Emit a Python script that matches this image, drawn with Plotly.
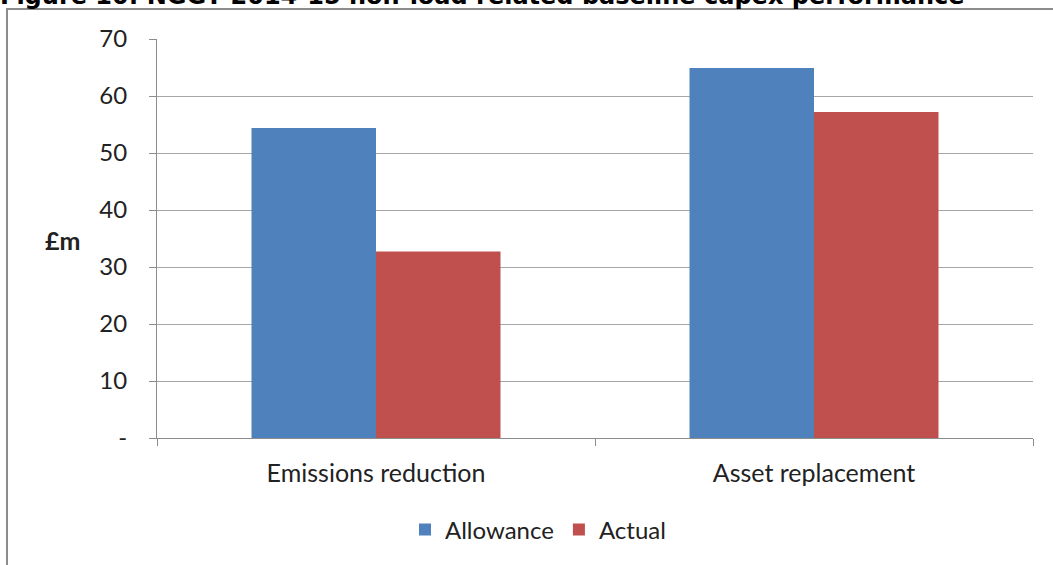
import plotly.graph_objects as go

# Capex categories and spend in £m
categories = ["Emissions reduction", "Asset replacement"]
allowance = [54.4, 64.9]
actual = [32.7, 57.2]

y_ticks = [0, 10, 20, 30, 40, 50, 60, 70]
y_tick_text = ["-", "10", "20", "30", "40", "50", "60", "70"]

W, H = 1053, 565
L, R, T, B = 157, 20, 39, 127
pw, ph = W - L - R, H - T - B


def px_x(x):
    return (x - L) / pw


def px_y(y):
    return (H - B - y) / ph


FONT = "Lato"
GRID = "#A6A6A6"

fig = go.Figure()
fig.add_bar(name="Allowance", x=categories, y=allowance,
            marker=dict(color="#4F81BD", line=dict(width=0)))
fig.add_bar(name="Actual", x=categories, y=actual,
            marker=dict(color="#C0504D", line=dict(width=0)))

fig.update_layout(
    width=W, height=H,
    margin=dict(l=L, r=R, t=T, b=B, pad=0),
    paper_bgcolor="white", plot_bgcolor="white",
    barmode="group", bargap=0.4315, bargroupgap=0,
    font=dict(family=FONT, size=25, color="#222222"),
    showlegend=True,
    legend=dict(orientation="h", x=px_x(538), xanchor="center",
                y=px_y(530), yanchor="middle",
                font=dict(family=FONT, size=24, color="#222222"),
                itemsizing="constant", traceorder="normal"),
    xaxis=dict(showline=True, linecolor="#8C8C8C", linewidth=1,
               ticks="outside", tickson="boundaries", ticklen=7,
               tickcolor="#8C8C8C", showgrid=False,
               tickfont=dict(family=FONT, size=25, color="#222222"),
               ticklabelstandoff=13),
    yaxis=dict(range=[0, 70], tickvals=y_ticks, ticktext=y_tick_text,
               showline=True, linecolor="#8C8C8C", linewidth=1,
               ticks="outside", ticklen=7, tickcolor="#8C8C8C",
               showgrid=True, gridcolor=GRID, gridwidth=1,
               zeroline=False,
               tickfont=dict(family=FONT, size=24, color="#222222"),
               ticklabelstandoff=17),
    shapes=[
        dict(type="line", xref="paper", yref="paper",
             x0=px_x(7), x1=px_x(7), y0=px_y(9), y1=px_y(H + 5),
             line=dict(color="#8C8C8C", width=2)),
        dict(type="line", xref="paper", yref="paper",
             x0=px_x(6), x1=px_x(W + 5), y0=px_y(9), y1=px_y(9),
             line=dict(color="#8C8C8C", width=2)),
    ],
    annotations=[
        dict(text="<b>£m</b>", xref="paper", yref="paper",
             x=px_x(62), y=px_y(240), xanchor="center", yanchor="middle",
             showarrow=False, font=dict(family=FONT, size=25, color="#222222")),
        dict(text="<b>Figure 10: NGGT 2014-15 non-load related baseline capex performance</b>",
             xref="paper", yref="paper", x=px_x(-2), y=px_y(12),
             xanchor="left", yanchor="bottom", showarrow=False,
             font=dict(family="DejaVu Sans", size=24, color="#000000")),
    ],
)

fig.write_html("out.html")
